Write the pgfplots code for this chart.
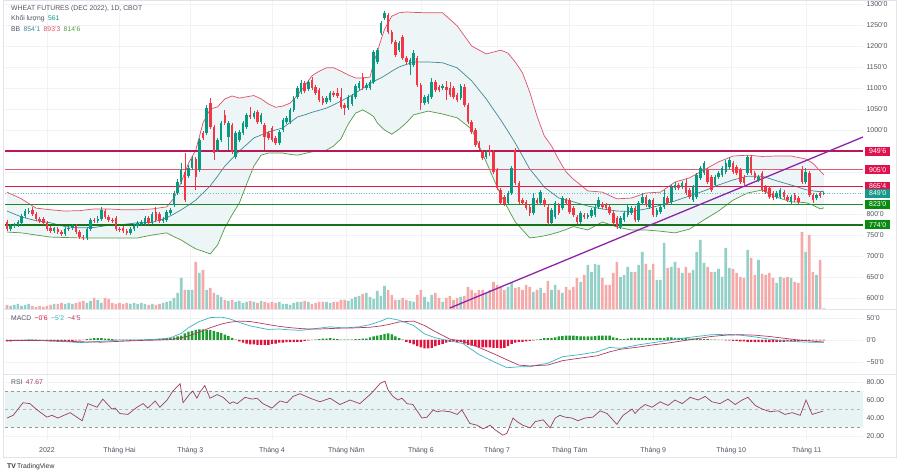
\documentclass[border=0pt]{standalone}
\usepackage{pgfplots}
\pgfplotsset{compat=1.18}
\usepackage{pgfplotstable}
\usepackage{fontspec}
\setmainfont{Liberation Sans}

\definecolor{upc}{HTML}{089981}
\definecolor{dnc}{HTML}{F23645}
\definecolor{volup}{HTML}{92D0C8}
\definecolor{voldn}{HTML}{F5A9A9}
\definecolor{bbfill}{HTML}{EDF5F6}
\definecolor{bbup}{HTML}{E2506A}
\definecolor{bbmid}{HTML}{3E8B97}
\definecolor{bblo}{HTML}{559A45}
\definecolor{gridc}{HTML}{F0F2F6}
\definecolor{framec}{HTML}{E0E3EB}
\definecolor{txt}{HTML}{50535E}
\definecolor{lvlA}{HTML}{B8175A}
\definecolor{lvlB}{HTML}{E35A74}
\definecolor{lvlC}{HTML}{D81B47}
\definecolor{boxR}{HTML}{E0124E}
\definecolor{lastc}{HTML}{16998A}
\definecolor{lvlG}{HTML}{1A8A2A}
\definecolor{lvlH}{HTML}{177217}
\definecolor{boxG}{HTML}{0B8A12}
\definecolor{trendc}{HTML}{8E24AA}
\definecolor{macdc}{HTML}{3BB3C3}
\definecolor{sigc}{HTML}{B03A62}
\definecolor{histup}{HTML}{1B9E2F}
\definecolor{histdn}{HTML}{E0113E}
\definecolor{rsic}{HTML}{9C3D63}
\definecolor{rsiband}{HTML}{E8F3F4}
\definecolor{rsidash}{HTML}{9598A1}

% daily bars: index, open, high, low, close (US cents), volume (thousand contracts)
\pgfplotstableread{
k o h l c v
0 781 786 759 764 4
1 764 776 759 771 3
2 771 779 767 774 4
3 774 786 769 781 5
4 779 800 774 795 3
5 795 812 791 807 4
6 805 814 800 807 5
7 810 817 795 800 3
8 800 805 783 788 2
9 788 793 779 783 3
10 788 793 774 779 2
11 779 783 759 764 3
12 767 771 755 759 4
13 759 769 755 767 5
14 764 769 752 757 5
15 757 762 748 752 6
16 752 769 748 764 5
17 764 771 759 767 6
18 767 776 762 771 5
19 771 776 752 757 6
20 757 762 741 745 7
21 745 750 738 743 8
22 743 769 738 764 6
23 764 791 759 786 8
24 786 791 779 783 11
25 783 795 779 788 9
26 788 817 783 810 6
27 807 812 788 793 11
28 793 798 781 786 10
29 786 791 779 783 6
30 791 795 759 764 5
31 764 769 757 762 6
32 767 771 755 759 5
33 759 764 750 755 6
34 755 769 750 764 5
35 764 776 759 771 6
36 771 783 767 779 5
37 776 786 771 781 6
38 776 795 771 791 5
39 791 795 774 779 4
40 781 805 776 800 5
41 805 817 781 786 4
42 800 805 779 783 5
43 783 793 779 788 6
44 786 810 781 805 7
45 802 814 798 810 8
46 821 855 817 850 11
47 850 883 845 876 16
48 876 921 871 905 31
49 900 945 829 833 19
50 890 917 886 910 19
51 910 938 905 931 19
52 931 936 857 888 47
53 905 981 900 976 36
54 993 998 976 981 39
55 993 1060 988 1052 19
56 1064 1076 1002 1007 21
57 1007 1012 929 945 16
58 952 981 948 976 14
59 976 1021 971 1017 12
60 1036 1048 1012 1017 9
61 983 1021 952 1017 8
62 1012 1017 943 948 9
63 936 998 931 993 7
64 976 1000 971 995 8
65 993 1021 988 1017 6
66 1007 1040 1002 1036 7
67 1036 1055 1026 1031 8
68 1031 1045 1026 1040 7
69 1043 1048 1014 1019 6
70 1019 1040 1014 1036 8
71 1012 1017 952 983 7
72 993 998 976 981 6
73 1005 1010 971 976 7
74 981 986 964 969 6
75 969 1000 964 995 7
76 1000 1029 995 1024 5
77 1019 1033 1014 1029 5
78 1019 1052 1014 1048 4
79 1048 1081 1043 1076 6
80 1079 1105 1074 1100 7
81 1090 1119 1086 1112 7
82 1112 1117 1088 1093 8
83 1098 1119 1093 1114 7
84 1119 1126 1095 1100 5
85 1102 1107 1083 1088 6
86 1095 1100 1067 1071 7
87 1076 1081 1060 1064 7
88 1067 1081 1062 1076 7
89 1071 1093 1067 1088 6
90 1088 1093 1079 1083 7
91 1088 1100 1076 1081 7
92 1079 1100 1050 1055 9
93 1060 1064 1036 1052 9
94 1052 1083 1048 1079 8
95 1062 1086 1057 1081 10
96 1079 1110 1074 1105 12
97 1100 1117 1095 1112 13
98 1126 1136 1095 1100 15
99 1100 1112 1095 1107 16
100 1100 1119 1095 1114 12
101 1114 1190 1110 1186 10
102 1162 1195 1157 1190 18
103 1231 1260 1226 1255 13
104 1267 1283 1262 1279 23
105 1274 1279 1228 1233 19
106 1233 1238 1205 1209 14
107 1209 1214 1174 1179 9
108 1190 1212 1186 1207 9
109 1221 1226 1167 1171 11
110 1171 1176 1155 1162 9
111 1155 1171 1131 1167 8
112 1155 1190 1150 1183 7
113 1171 1176 1102 1107 14
114 1107 1112 1048 1064 19
115 1064 1083 1060 1079 12
116 1067 1086 1062 1081 7
117 1079 1124 1074 1114 14
118 1114 1119 1090 1095 16
119 1102 1107 1090 1095 11
120 1100 1110 1095 1105 7
121 1102 1117 1071 1095 11
122 1100 1114 1079 1083 13
123 1100 1105 1074 1079 9
124 1083 1088 1067 1071 11
125 1076 1110 1071 1105 12
126 1102 1110 1055 1060 13
127 1060 1064 1014 1019 22
128 1019 1024 990 995 19
129 1000 1005 960 964 16
130 969 974 952 957 19
131 948 952 929 933 19
132 936 952 931 948 16
133 952 964 938 948 19
134 948 952 895 900 27
135 905 910 857 862 24
136 857 862 821 826 22
137 840 845 819 824 19
138 826 855 821 850 22
139 850 914 845 910 26
140 952 957 869 874 21
141 874 879 824 829 22
142 833 838 821 826 19
143 829 833 810 814 24
144 817 821 795 802 22
145 802 850 798 838 17
146 833 838 821 826 19
147 826 857 821 852 21
148 833 838 817 821 16
149 817 821 774 779 28
150 779 814 774 810 19
151 793 831 788 826 24
152 821 826 798 802 19
153 814 843 810 838 16
154 833 838 821 826 22
155 833 838 800 805 19
156 814 819 793 798 22
157 793 798 776 781 31
158 781 807 776 802 27
159 798 802 788 793 34
160 793 802 788 798 44
161 795 814 791 810 37
162 798 821 793 817 45
163 817 840 812 833 44
164 824 829 812 817 31
165 821 826 810 814 24
166 817 821 798 802 24
167 802 807 774 779 36
168 791 795 764 769 47
169 769 795 764 791 32
170 786 807 781 802 34
171 798 821 793 817 42
172 802 819 798 814 37
173 814 819 781 786 37
174 786 831 781 826 44
175 826 850 821 840 57
176 840 845 817 821 45
177 817 836 812 833 39
178 833 838 793 798 45
179 798 814 793 810 29
180 805 821 800 817 29
181 817 857 812 840 66
182 838 843 821 826 41
183 829 869 824 864 42
184 862 876 857 869 47
185 869 874 857 862 41
186 864 879 859 874 36
187 874 883 845 850 42
188 857 862 836 840 36
189 833 869 829 864 39
190 840 898 836 893 57
191 886 914 881 910 69
192 898 926 893 921 46
193 905 910 871 876 42
194 888 893 852 857 37
195 869 893 864 888 37
196 888 902 883 898 40
197 893 914 888 910 32
198 900 929 895 921 61
199 912 936 907 929 41
200 921 926 895 900 40
201 912 917 893 898 36
202 905 910 871 876 32
203 888 893 869 874 31
204 898 940 893 936 59
205 936 940 893 898 51
206 898 902 881 886 34
207 881 893 876 888 49
208 898 902 852 857 35
209 864 869 848 852 34
210 862 867 836 840 36
211 850 855 833 838 31
212 840 855 836 850 26
213 840 862 836 857 32
214 852 857 836 840 31
215 840 845 829 833 32
216 829 845 824 840 31
217 845 850 829 833 27
218 838 843 824 829 26
219 905 914 871 876 77
220 876 910 871 900 57
221 898 902 840 845 74
222 845 850 826 833 37
223 838 848 833 845 34
224 850 855 838 843 49
225 848 852 845 849 0.561
}\candles

% Bollinger bands (20, 2): upper, basis, lower
\pgfplotstableread{
k up mid lo
0 852 807 757
4 836 793 755
8 814 784 750
12 810 779 745
16 807 770 744
20 808 767 743
24 812 768 743
28 812 773 743
32 810 775 743
36 810 779 743
40 812 780 750
44 817 791 755
46 838 800 746
48 876 810 738
50 921 821 727
52 952 833 717
54 1017 850 711
56 1050 867 705
58 1055 890 726
60 1074 914 767
62 1081 932 798
64 1076 950 826
66 1079 965 871
68 1082 981 914
70 1074 988 940
72 1062 995 945
74 1054 1000 945
76 1057 1005 945
78 1064 1018 942
80 1083 1031 940
82 1105 1036 944
84 1129 1042 948
86 1140 1047 950
88 1148 1052 952
90 1148 1060 962
92 1140 1069 979
94 1131 1078 1014
96 1124 1088 1040
98 1124 1099 1048
100 1126 1110 1038
101 1160 1115 1032
102 1186 1120 1017
103 1214 1124 1008
104 1240 1129 1000
106 1271 1140 990
108 1279 1150 1002
110 1281 1156 1017
112 1280 1162 1036
116 1279 1162 1045
120 1279 1160 1038
124 1248 1148 1029
128 1200 1117 1002
132 1181 1074 924
136 1190 1024 845
138 1183 997 813
140 1162 969 781
142 1136 938 762
144 1090 907 743
146 1033 886 745
148 986 864 748
150 962 851 752
152 929 838 757
154 900 834 763
156 883 829 770
158 869 824 766
160 855 819 762
164 852 812 781
168 836 807 769
172 838 806 762
176 850 812 762
180 852 821 759
184 876 831 755
188 886 843 764
192 905 855 786
196 924 869 807
200 938 881 833
204 940 890 850
208 937 890 857
212 938 879 840
216 938 869 829
220 931 858 827
222 921 855 821
224 902 853 812
225 893.3 854.1 814.6
}\bands

% MACD (12, 26, 9): macd line and signal line
\pgfplotstableread{
k m s
0 -2 -1
6 0 -1
15 -3 -2
20 -6 -4
26 -3 -5
31 0 -3
37 0 -1
42 2 0
45 5 1
48 15 5
50 28 9
53 42 18
56 51 28
59 52 36
61 49 40
64 40 43
67 32 42
70 27 38
72 24 35
75 25 31
78 23 28
81 22 26
83 24 25
86 27 25
89 30 26
92 28 27
94 28 27
97 30 28
100 35 29
103 43 32
105 50 35
108 45 41
112 33 43
115 14 33
118 5 19
122 -2 2
125.6 -8 -3
130 -33 -17
134 -49 -31
137.7 -63 -45
141 -61 -57
144 -61 -59
146 -57 -58
149 -53 -57
153 -38 -47
158 -33 -41
162.5 -27 -36
166 -17 -27
169 -19 -21
174 -11 -16
178 -6 -11
182 -1 -7
186 4 -2
190 8 3
194 12 8
198 13 11
202 11 12
206 7 11
210 2 8
214 -2 4
218 -4 0
221 -5 -2
223 -5 -3.5
225 -5.2 -4.5
}\macdlines

% MACD histogram
\pgfplotstableread{
k m
0 -3
1 -3
2 -2
3 -2
4 -1
5 0
6 1
7 1
8 1
9 0
10 -1
11 -2
12 -3
13 -3
14 -4
15 -4
16 -3
17 -3
18 -2
19 -1
20 -1
21 0
22 2
23 3
24 4
25 4
26 4
27 3
28 3
29 2
30 1
31 0
32 -1
33 -1
34 -2
35 -1
36 0
37 1
38 1
39 2
40 1
41 2
42 3
43 3
44 4
45 5
46 6
47 8
48 10
49 15
50 19
51 21
52 23
53 24
54 24
55 23
56 23
57 21
58 18
59 16
60 12
61 9
62 5
63 1
64 -3
65 -6
66 -8
67 -10
68 -10
69 -11
70 -11
71 -11
72 -11
73 -9
74 -8
75 -6
76 -6
77 -5
78 -5
79 -5
80 -4
81 -4
82 -2
83 -1
84 0
85 1
86 2
87 3
88 3
89 4
90 3
91 2
92 1
93 1
94 1
95 1
96 2
97 2
98 3
99 3
100 6
101 8
102 10
103 11
104 14
105 15
106 13
107 8
108 4
109 1
110 -4
111 -7
112 -10
113 -14
114 -17
115 -19
116 -19
117 -18
118 -14
119 -11
120 -9
121 -6
122 -4
123 -3
124 -4
125 -5
126 -8
127 -11
128 -13
129 -14
130 -16
131 -17
132 -17
133 -17
134 -18
135 -18
136 -19
137 -18
138 -14
139 -9
140 -6
141 -4
142 -4
143 -3
144 -2
145 -1
146 1
147 2
148 4
149 4
150 5
151 6
152 8
153 9
154 10
155 10
156 10
157 9
158 8
159 8
160 8
161 8
162 9
163 10
164 10
165 10
166 10
167 6
168 4
169 2
170 2
171 3
172 5
173 5
174 5
175 5
176 5
177 5
178 4
179 4
180 5
181 5
182 6
183 6
184 5
185 5
186 4
187 4
188 3
189 3
190 3
191 2
192 2
193 2
194 1
195 1
196 0
197 0
198 -1
199 -1
200 -2
201 -2
202 -3
203 -3
204 -4
205 -4
206 -5
207 -5
208 -5
209 -5
210 -5
211 -5
212 -4
213 -4
214 -4
215 -3
216 -3
217 -3
218 -3
219 -2
220 -2
221 -2
222 -1
223 -1
224 -1
225 -0.6
}\macdhist

% RSI (14)
\pgfplotstableread{
k r
0 40
1.7 43
4.4 57
6.3 56
8.3 49
11 41
12.4 43
14 40
17.4 46
20.7 37
22.3 56
24.8 52
26.4 61
28.9 50
29.8 51
31.1 45
33.3 44
35.8 52
37.5 56
38.8 51
40.8 59
42.1 52
44.1 60
45.7 70
47.7 78
48.5 57
50.4 67
51.2 70
52.3 62
53.2 69
54.5 76
55.9 62
57.9 66
59.5 63
61.4 56
62.3 58
63.4 56
65.6 63
67.5 61
68.9 62
70.5 56
73 51
75.2 59
77.1 57
78.8 64
80.7 67
83.5 62
86.2 58
89 62
91.7 55
94.5 60
97.2 56
100 66
101.4 72
102.8 78.5
104.1 81
105 71
106.3 64
107.7 60
108.8 62
110.2 56
111.8 55
114.3 40
115.7 41
117.4 49
118.5 47
119.8 48
122 47
124 44
125.3 49
127.5 34
129.5 32
131.1 28
133.1 32
134.4 27
136.6 21
137.7 23
139.4 40
140.5 36
142.1 32
144.1 29
145.5 36
147.7 38
149.6 29
151 40
152.3 43
153.7 41
155.6 40
157.3 37
159.2 40
161.4 41
163.4 48
165.3 45
168 33
169.7 43
172.2 50
173 45
174.4 51
175.8 55
177.7 52
179.9 58
182.1 54
184 60
186 56
188.2 63
190.4 60
192.3 64
194.2 58
196.4 56
198.6 61
200.6 55
202.5 60
204.1 63
206.1 54
208 50
210.2 47
212.4 48
214.3 44
216.3 46
218.5 43
220.1 60
221.8 44
223.4 46
224.8 47.67
}\rsidata

\pgfplotsset{
  pane/.style={
    scale only axis, width=858pt, anchor=south west,
    xmin=-0.55, xmax=235.8,
    axis line style={draw=none},
    major tick length=0pt,
    xtick={11,31,50.5,73,93.5,114,135,155,178,199.5,220.3},
    yticklabel pos=right,
    yticklabel style={font=\fontsize{7}{8}\selectfont, text=txt},
    grid style={gridc, line width=0.6pt},
  },
  no xlabels/.style={xticklabels={}, xticklabel style={opacity=0}},
  candle/.style 2 args={draw=none, mark=none, forget plot, error bars/.cd, y dir=plus, y explicit,
    error mark=none, error bar style={draw=#1, line width=#2, solid}},
  lvl/.style={line width=1.2pt, forget plot},
}
\tikzset{
  tag/.style={anchor=west, xshift=2pt, text=white, inner xsep=0pt, inner ysep=2pt,
    minimum width=25pt, text height=5pt, text depth=0pt, font=\fontsize{7}{8}\selectfont},
}

\begin{document}
\begin{tikzpicture}
\useasboundingbox (0,0) rectangle (905pt,476pt);
\fill[white] (0,0) rectangle (905pt,476pt);

% price pane: grid and band background
\begin{axis}[pane, at={(5pt,167pt)}, height=309pt, ymin=573.8, ymax=1309.5,
  ytick={600,650,...,1300}, no xlabels, yticklabels={}, yticklabel style={opacity=0},
  xmajorgrids, ymajorgrids, stack plots=y]
  \addplot[draw=none, forget plot] table[x=k, y=lo] {\bands};
  \addplot[draw=none, fill=bbfill, forget plot] table[x=k, y expr=\thisrow{up}-\thisrow{lo}] {\bands} \closedcycle;
\end{axis}

% volume overlay, coloured by the direction of the day
\begin{axis}[pane, at={(5pt,167pt)}, height=309pt, ymin=0, ymax=309,
  ytick=\empty, xtick=\empty]
  \addplot[ybar, bar width=2.6pt, fill=volup, draw=none]
    table[x=k, y expr={\thisrow{c}>=\thisrow{o} ? \thisrow{v} : 0}] {\candles};
  \addplot[ybar, bar width=2.6pt, fill=voldn, draw=none]
    table[x=k, y expr={\thisrow{c}<\thisrow{o} ? \thisrow{v} : 0}] {\candles};
\end{axis}

% price pane: bands, levels, trend line, candles
\begin{axis}[pane, at={(5pt,167pt)}, height=309pt, ymin=573.8, ymax=1309.5,
  clip mode=individual, no xlabels,
  ytick={600,650,...,1300},
  yticklabels={600'0,650'0,700'0,750'0,800'0,,,,1000'0,1050'0,1100'0,1150'0,1200'0,1250'0,1300'0}]
  \addplot[bbup, line width=0.7pt] table[x=k, y=up] {\bands};
  \addplot[bbmid, line width=0.7pt] table[x=k, y=mid] {\bands};
  \addplot[bblo, line width=0.7pt] table[x=k, y=lo] {\bands};
  \addplot[lastc!60, line width=0.6pt, dotted, forget plot] coordinates {(-0.55,849) (235.8,849)};
  \addplot[lvlA, lvl] coordinates {(-0.55,949.75) (235.8,949.75)};
  \addplot[lvlB, lvl] coordinates {(-0.55,905) (235.8,905)};
  \addplot[lvlC, lvl] coordinates {(-0.55,865.5) (235.8,865.5)};
  \addplot[lvlG, lvl] coordinates {(-0.55,823) (235.8,823)};
  \addplot[lvlH, lvl] coordinates {(-0.55,774) (235.8,774)};
  \addplot[trendc, line width=1.3pt, forget plot] coordinates {(122,576.2) (235.8,983.3)};
  % wicks
  \addplot[candle={upc}{0.7pt}] table[x=k, y=l,
    y error plus expr={\thisrow{c}>=\thisrow{o} ? \thisrow{h}-\thisrow{l} : 0}] {\candles};
  \addplot[candle={dnc}{0.7pt}] table[x=k, y=l,
    y error plus expr={\thisrow{c}<\thisrow{o} ? \thisrow{h}-\thisrow{l} : 0}] {\candles};
  % bodies
  \addplot[candle={upc}{2.5pt}] table[x=k, y=o,
    y error plus expr={\thisrow{c}>=\thisrow{o} ? \thisrow{c}-\thisrow{o} : 0}] {\candles};
  \addplot[candle={dnc}{2.5pt}] table[x=k, y=c,
    y error plus expr={\thisrow{c}<\thisrow{o} ? \thisrow{o}-\thisrow{c} : 0}] {\candles};
  \node[tag, fill=boxR] at (axis cs:235.8,949.75) {949'6};
  \node[tag, fill=boxR] at (axis cs:235.8,905) {905'0};
  \node[tag, fill=boxR] at (axis cs:235.8,865.5) {865'4};
  \node[tag, fill=lastc] at (axis cs:235.8,849) {849'0};
  \node[tag, fill=boxG] at (axis cs:235.8,823) {823'0};
  \node[tag, fill=boxG] at (axis cs:235.8,774) {774'0};
\end{axis}

% MACD pane
\begin{axis}[pane, at={(5pt,102pt)}, height=65pt, ymin=-77.3, ymax=70.5,
  ytick={-50,0,50}, yticklabels={−50'0,0'0,50'0}, no xlabels,
  xmajorgrids, ymajorgrids]
  \addplot[ybar, bar width=2.4pt, fill=histup, draw=none] table[x=k, y expr={max(\thisrow{m},0)}] {\macdhist};
  \addplot[ybar, bar width=2.4pt, fill=histdn, draw=none] table[x=k, y expr={min(\thisrow{m},0)}] {\macdhist};
  \addplot[macdc, line width=0.7pt] table[x=k, y=m] {\macdlines};
  \addplot[sigc, line width=0.7pt] table[x=k, y=s] {\macdlines};
\end{axis}

% RSI pane with time axis
\begin{axis}[pane, at={(5pt,36pt)}, height=66pt, ymin=15.6, ymax=88.9,
  ytick={20,40,60,80}, yticklabels={20.00,40.00,60.00,80.00},
  xticklabels={2022,Tháng Hai,Tháng 3,Tháng 4,Tháng Năm,Tháng 6,Tháng 7,Tháng Tám,Tháng 9,Tháng 10,Tháng 11},
  xticklabel style={font=\fontsize{7}{8}\selectfont, text=txt, anchor=base, yshift=-13pt},
  xmajorgrids, ymajorgrids]
  \addplot[fill=rsiband, draw=none] coordinates {(-1,30) (237,30) (237,70) (-1,70) (-1,30)};
  \addplot[rsidash, dashed, line width=0.6pt] coordinates {(-0.55,70) (235.8,70)};
  \addplot[rsidash!70, dashed, line width=0.5pt] coordinates {(-0.55,50) (235.8,50)};
  \addplot[rsidash, dashed, line width=0.6pt] coordinates {(-0.55,30) (235.8,30)};
  \addplot[rsic, line width=0.7pt] table[x=k, y=r] {\rsidata};
\end{axis}

% frame and pane separators
\draw[framec, line width=0.8pt] (3pt,19pt) rectangle (896pt,476pt);
\draw[framec, line width=0.8pt] (3pt,167pt) -- (896pt,167pt);
\draw[framec, line width=0.8pt] (3pt,102pt) -- (896pt,102pt);

% legends
\begin{scope}[every node/.style={anchor=west, inner sep=0pt, text=txt, font=\fontsize{6.8}{8}\selectfont}]
\node at (11pt,467pt) {WHEAT FUTURES (DEC 2022), 1D, CBOT};
\node at (11pt,457pt) {Khối lượng\enspace\textcolor{upc}{561}};
\node at (11pt,447pt) {BB\enspace\textcolor{bbmid}{854'1}\enspace\textcolor{bbup}{893'3}\enspace\textcolor{bblo}{814'6}};
\node at (11pt,158pt) {MACD\enspace\textcolor{histdn}{−0'6}\enspace\textcolor{macdc}{−5'2}\enspace\textcolor{sigc}{−4'5}};
\node at (11pt,94pt) {RSI\enspace\textcolor{rsic}{47.67}};
\node[text=black!80] at (7pt,9pt) {\textbf{TV}\thinspace TradingView};
\end{scope}
\end{tikzpicture}
\end{document}
